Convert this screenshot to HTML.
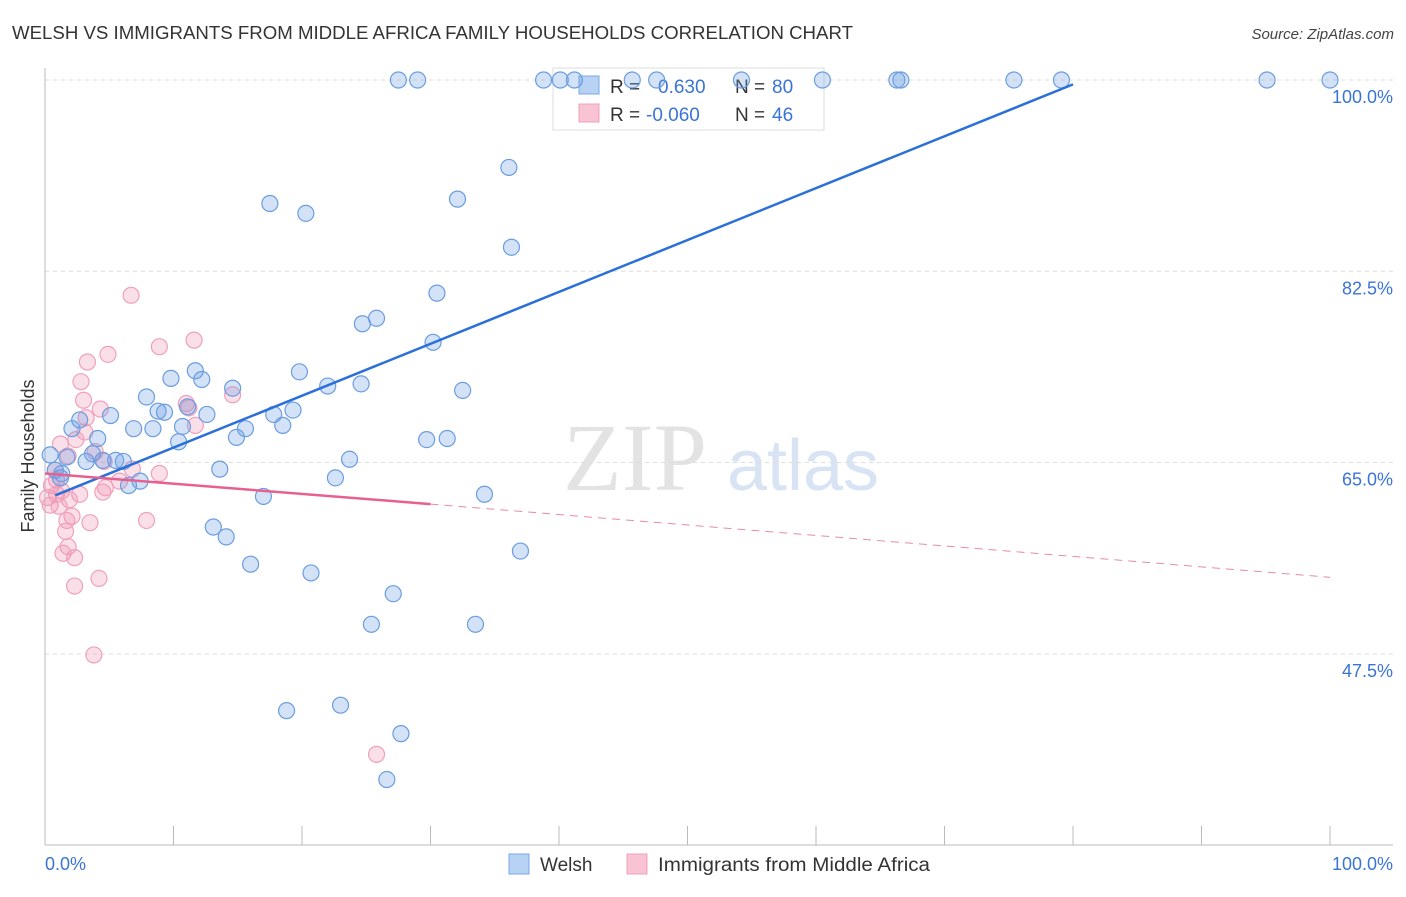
<!DOCTYPE html>
<html><head><meta charset="utf-8"><style>
body{margin:0;background:#fff;font-family:"Liberation Sans",sans-serif;}
</style></head><body>
<svg width="1406" height="892" xmlns="http://www.w3.org/2000/svg" style="font-family:'Liberation Sans',sans-serif">
<text x="12" y="39" font-size="18" fill="#333" textLength="841" lengthAdjust="spacingAndGlyphs">WELSH VS IMMIGRANTS FROM MIDDLE AFRICA FAMILY HOUSEHOLDS CORRELATION CHART</text>
<text x="1394" y="39" font-size="15" fill="#444" text-anchor="end" font-style="italic">Source: ZipAtlas.com</text>
<g>
<text x="635" y="490" font-size="96" fill="#ddd" text-anchor="middle" font-family="Liberation Serif" opacity="0.8">ZIP</text>
<text x="803" y="490" font-size="72" fill="#c8d9f0" text-anchor="middle" opacity="0.7">atlas</text>
</g>
<g id="grid"></g>
<g id="axes"></g>
<g>
<rect x="553" y="68" width="271" height="62" fill="#fff" stroke="#ddd"/>
<rect x="579" y="76" width="20" height="18" fill="#b8d2f4" stroke="#7aa8e6"/>
<rect x="579" y="104" width="20" height="18" fill="#f8c4d4" stroke="#f0a0bc"/>
<text x="610" y="93" font-size="19" fill="#333">R = <tspan fill="#3a74d6" x="658">0.630</tspan><tspan x="735" fill="#333">N = </tspan><tspan fill="#3a74d6" x="772">80</tspan></text>
<text x="610" y="121" font-size="19" fill="#333">R = <tspan fill="#3a74d6" x="646">-0.060</tspan><tspan x="735" fill="#333">N = </tspan><tspan fill="#3a74d6" x="772">46</tspan></text>
</g>
<g id="pts"></g>
<g id="lines"></g>
<text transform="translate(34,456) rotate(-90)" font-size="18" fill="#333" text-anchor="middle">Family Households</text>
<text x="45" y="870" font-size="18" fill="#3a74d6">0.0%</text>
<text x="1393" y="870" font-size="18" fill="#3a74d6" text-anchor="end">100.0%</text>
<g>
<rect x="509" y="854" width="20" height="20" fill="#b8d2f4" stroke="#7aa8e6"/>
<text x="540" y="871" font-size="19" fill="#333">Welsh</text>
<rect x="627" y="854" width="20" height="20" fill="#f8c4d4" stroke="#f0a0bc"/>
<text x="658" y="871" font-size="19" fill="#333" textLength="272" lengthAdjust="spacingAndGlyphs">Immigrants from Middle Africa</text>
</g>
</svg>
<script>
const yTicks=[100,82.5,65,47.5];
const yTickLabels=["100.0%","82.5%","65.0%","47.5%"];
const xTicks=[0,10,20,30,40,50,60,70,80,90,100];
const welshX=[27.5,29.0,38.8,40.1,41.2,45.7,47.6,54.2,60.5,66.3,66.6,75.4,79.1,95.1,100,36.1,32.1,17.5,20.3,36.3,30.5,25.8,24.7,30.2,11.7,19.8,9.8,12.2,22.0,24.6,14.6,32.5,7.9,11.1,8.8,9.3,19.3,17.8,12.6,5.1,2.7,18.5,2.1,6.9,8.4,10.7,15.6,14.9,4.1,29.7,31.3,10.4,3.7,1.7,3.2,4.5,5.5,6.1,23.7,13.6,0.8,1.3,1.2,7.4,6.5,22.6,34.2,17.0,13.1,14.1,37.0,16.0,20.7,27.1,25.4,33.5,18.8,23.0,27.7,26.6,0.4];
const welshY=[100,100,100,100,100,100,100,100,100,100,100,100,100,100,100,92.0,89.1,88.7,87.8,84.7,80.5,78.2,77.7,76.0,73.4,73.3,72.7,72.6,72.0,72.2,71.8,71.6,71.0,70.1,69.7,69.6,69.8,69.4,69.4,69.3,68.9,68.4,68.1,68.1,68.1,68.3,68.1,67.3,67.2,67.1,67.2,66.9,65.8,65.5,65.1,65.2,65.2,65.1,65.3,64.4,64.3,64.0,63.6,63.3,62.9,63.6,62.1,61.9,59.1,58.2,56.9,55.7,54.9,53.0,50.2,50.2,42.3,42.8,40.2,36.0,65.7];
const immX=[6.7,11.6,8.9,4.9,3.3,2.8,3.0,14.6,11.0,4.3,11.2,11.7,3.2,3.1,2.4,1.2,3.9,1.8,4.6,5.8,8.9,6.8,0.9,0.5,1.3,2.7,4.5,0.9,4.7,0.2,1.9,0.4,1.1,2.1,3.5,7.9,1.7,1.6,1.8,1.4,2.3,4.2,2.3,3.8,25.8,0.8];
const immY=[80.3,76.2,75.6,74.9,74.2,72.4,70.7,71.2,70.4,69.9,70.0,68.4,69.1,67.8,67.1,66.7,66.0,65.6,65.1,63.3,64.0,64.4,63.4,62.9,62.4,62.1,62.3,62.1,62.7,61.8,61.6,61.1,61.0,60.1,59.5,59.7,59.7,58.7,57.3,56.7,56.3,54.4,53.7,47.4,38.3,64.3];
const welshTrend=[[0.8,62.0],[80,99.6]];
const immTrendSolid=[[0,64.0],[30,61.2]];
const immTrendDash=[[30,61.2],[100,54.5]];
const NS="http://www.w3.org/2000/svg";
const X=v=>45+v*12.85;
const Y=v=>80+(100-v)*10.93;
function mk(t,a,p){const e=document.createElementNS(NS,t);for(const k in a)e.setAttribute(k,a[k]);p.appendChild(e);return e;}
const grid=document.getElementById('grid'),axes=document.getElementById('axes'),pts=document.getElementById('pts'),lines=document.getElementById('lines');
yTicks.forEach((t,i)=>{
 const l=mk('line',{x1:45,x2:1393,y1:Y(t),y2:Y(t),stroke:'#ddd','stroke-dasharray':'4,4'},grid);
 
 
 const tx=mk('text',{x:1393,y:Y(t)+23,'font-size':18,fill:'#3a74d6','text-anchor':'end'},grid);
 tx.textContent=yTickLabels[i];
 
 
});
const ax=mk('line',{x1:45,x2:45,y1:68,y2:845,stroke:'#bbb'},axes);


const bx=mk('line',{x1:45,x2:1393,y1:845,y2:845,stroke:'#bbb'},axes);


xTicks.forEach(t=>{
 const l=mk('line',{x1:X(t),x2:X(t),y1:826,y2:845,stroke:'#bbb'},axes);
 
 
});
immX.forEach((v,i)=>{
 const c=mk('circle',{cx:X(v),cy:Y(immY[i]),r:8,fill:'rgba(240,150,180,0.3)',stroke:'#f0a0bc','stroke-width':1.2},pts);
 
 
});
welshX.forEach((v,i)=>{
 const c=mk('circle',{cx:X(v),cy:Y(welshY[i]),r:8,fill:'rgba(110,160,230,0.3)',stroke:'#6a9de0','stroke-width':1.2},pts);
 
 
});
const w=mk('line',{x1:X(welshTrend[0][0]),y1:Y(welshTrend[0][1]),x2:X(welshTrend[1][0]),y2:Y(welshTrend[1][1]),stroke:'#2a70d8','stroke-width':2.5},lines);


const p1=mk('line',{x1:X(immTrendSolid[0][0]),y1:Y(immTrendSolid[0][1]),x2:X(immTrendSolid[1][0]),y2:Y(immTrendSolid[1][1]),stroke:'#e86090','stroke-width':2.5},lines);


const p2=mk('line',{x1:X(immTrendDash[0][0]),y1:Y(immTrendDash[0][1]),x2:X(immTrendDash[1][0]),y2:Y(immTrendDash[1][1]),stroke:'#e88aaa','stroke-width':1,'stroke-dasharray':'8,6'},lines);


</script>
</body></html>
